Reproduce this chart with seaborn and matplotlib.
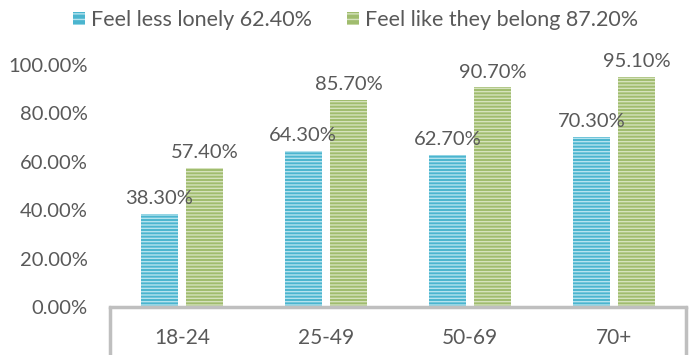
import matplotlib
matplotlib.use("Agg")
import matplotlib.pyplot as plt
import seaborn as sns
import pandas as pd
from matplotlib.lines import Line2D
from matplotlib.patches import Patch

# data
age_groups = ["18-24", "25-49", "50-69", "70+"]
less_lonely = [38.3, 64.3, 62.7, 70.3]
belong = [57.4, 85.7, 90.7, 95.1]
series_names = ["Feel less lonely 62.40%", "Feel like they belong 87.20%"]
y_ticks = [0, 20, 40, 60, 80, 100]

df = pd.DataFrame({
    "age": age_groups * 2,
    "value": less_lonely + belong,
    "series": [series_names[0]] * 4 + [series_names[1]] * 4,
})

sns.set_style("white")
plt.rcParams["font.family"] = ["Lato", "DejaVu Sans"]
plt.rcParams["hatch.linewidth"] = 1.0
text_grey = "#595959"
box_grey = "#BFBFBF"
colors = ["#4BB5CF", "#A0BC6E"]
stripe = ["#B5E3EE", "#D5E2BC"]

fig = plt.figure(figsize=(7, 3.55), dpi=100)
ax = fig.add_axes([0.157, 0.135, 0.823, 0.682])

sns.barplot(data=df, x="age", y="value", hue="series", palette=colors,
            width=0.63, gap=0.18, ax=ax, legend=False, saturation=1)

for i, cont in enumerate(ax.containers):
    for p in cont:
        p.set_hatch("-----")
        p.set_edgecolor(stripe[i])
        p.set_linewidth(0)
    ax.bar_label(cont, labels=[f"{v:.2f}%" for v in cont.datavalues],
                 padding=5, fontsize=14.5, color=text_grey)

ax.set_ylim(0, 100)
ax.set_xlim(-0.5, 3.5)
ax.set_yticks(y_ticks)
ax.set_yticklabels([f"{t:.2f}%" for t in y_ticks])
ax.tick_params(axis="y", length=0, pad=16, labelsize=14.5, labelcolor=text_grey)
ax.tick_params(axis="x", length=0, pad=15, labelsize=15, labelcolor=text_grey)
ax.set_xlabel("")
ax.set_ylabel("")
for side in ["top", "right", "left"]:
    ax.spines[side].set_visible(False)
ax.spines["bottom"].set_color(box_grey)
ax.spines["bottom"].set_linewidth(2.5)

# frame around category labels
for xa in [0.0, 1.0]:
    ax.add_line(Line2D([xa, xa], [0, -0.3], transform=ax.transAxes,
                       color=box_grey, lw=2.5, clip_on=False))

handles = [Patch(facecolor=colors[i], edgecolor=stripe[i], hatch="---", lw=0)
           for i in range(2)]
fig.legend(handles, series_names, loc="center", bbox_to_anchor=(0.508, 0.943),
           ncol=2, frameon=False, fontsize=15.5, labelcolor=text_grey,
           handlelength=0.55, handleheight=0.55, handletextpad=0.3,
           columnspacing=1.6)

fig.savefig("out.png", dpi=100)
